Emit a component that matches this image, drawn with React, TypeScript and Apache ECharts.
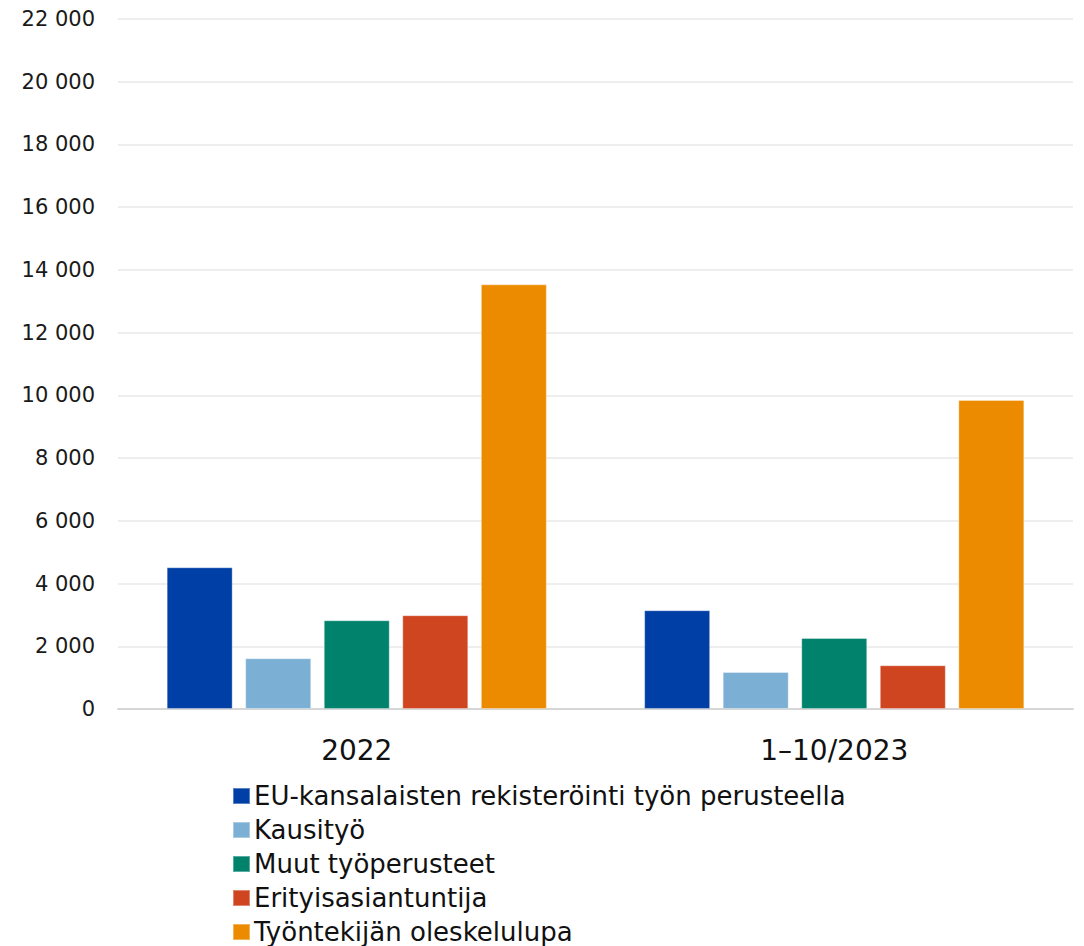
import React, { useEffect, useRef } from "react";
import * as echarts from "echarts";

const categories = ["2022", "1–10/2023"];
const seriesNames = [
  "EU-kansalaisten rekisteröinti työn perusteella",
  "Kausityö",
  "Muut työperusteet",
  "Erityisasiantuntija",
  "Työntekijän oleskelulupa",
];
const euValues = [4520, 3150];
const kausiValues = [1620, 1180];
const muutValues = [2830, 2265];
const erityisValues = [2990, 1395];
const tyoValues = [13540, 9855];
const seriesValues = [euValues, kausiValues, muutValues, erityisValues, tyoValues];
const colors = ["#003FA5", "#7BAFD4", "#00826D", "#CF4520", "#EC8B00"];
const yMin = 0;
const yMax = 22000;
const yInterval = 2000;

const FONT = "DejaVu Sans";

export default function App() {
  const ref = useRef<HTMLDivElement>(null);
  useEffect(() => {
    document.body.style.margin = "0";
    const chart = echarts.init(ref.current!, null, { renderer: "svg" });
    chart.setOption({
      animation: false,
      backgroundColor: "#ffffff",
      grid: { left: 118, right: 11, top: 19, bottom: 237, containLabel: false },
      legend: {
        orient: "vertical",
        left: 232,
        top: 783,
        padding: 0,
        itemWidth: 17,
        itemHeight: 16,
        itemGap: 8,
        icon: "rect",
        textStyle: {
          fontFamily: FONT,
          fontSize: 26,
          color: "#111111",
          padding: [0, 0, 0, -1],
        },
        data: seriesNames,
      },
      xAxis: {
        type: "category",
        data: categories,
        axisLine: { show: true, lineStyle: { color: "#d6d6d6", width: 2 } },
        axisTick: { show: false },
        axisLabel: { fontFamily: FONT, fontSize: 28, color: "#111111", margin: 27 },
      },
      yAxis: {
        type: "value",
        min: yMin,
        max: yMax,
        interval: yInterval,
        axisLine: { show: false },
        axisTick: { show: false },
        splitLine: { lineStyle: { color: "#eeeeee", width: 2 } },
        axisLabel: {
          fontFamily: FONT,
          fontSize: 21,
          color: "#1a1a1a",
          margin: 23,
          formatter: (v: number) => String(v).replace(/\B(?=(\d{3})+(?!\d))/g, " "),
        },
      },
      series: seriesNames.map((name, i) => ({
        name,
        type: "bar",
        data: seriesValues[i],
        barWidth: 66,
        barGap: "19%",
        itemStyle: { color: colors[i], borderColor: "rgba(255,255,255,0.35)", borderWidth: 1 },
      })),
    });
    return () => chart.dispose();
  }, []);
  return <div ref={ref} style={{ width: 1084, height: 946 }} />;
}
